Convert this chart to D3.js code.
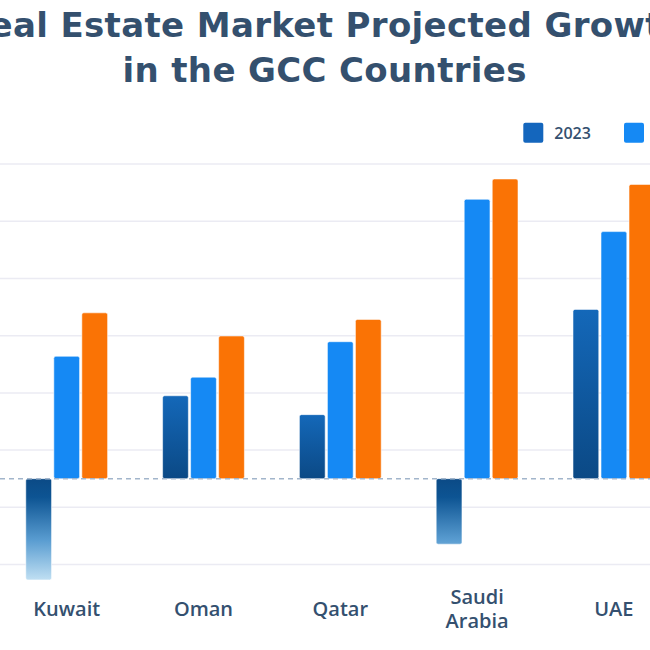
<!DOCTYPE html>
<html>
<head>
<meta charset="utf-8">
<script src="https://cdn.jsdelivr.net/npm/d3@7"></script>
<style>
html,body{margin:0;padding:0;background:#fff;overflow:hidden;}
svg{display:block;}
</style>
</head>
<body>
<svg id="chart" width="650" height="650"></svg>
<script>
const titleLines = ["Real Estate Market Projected Growth", "in the GCC Countries"];
const categories = ["Kuwait", "Oman", "Qatar", "Saudi Arabia", "UAE"];
const seriesNames = ["2023", "2024", "2030"];
const values2023 = [-3.54, 2.90, 2.24, -2.29, 5.92];
const values2024 = [4.28, 3.55, 4.79, 9.77, 8.64];
const values2030 = [5.80, 4.99, 5.57, 10.48, 10.29];
const gridTicks = [-3, -1, 1, 3, 5, 7, 9, 11];

const seriesValues = [values2023, values2024, values2030];
const textColor = "#34506f";

const svg = d3.select("#chart");
const W = 650;

const x0 = d3.scaleBand().domain(categories).range([-1.7, 682.3]).paddingInner(0.402).paddingOuter(0.201);
const x1 = d3.scaleBand().domain(seriesNames).range([0, x0.bandwidth()]).paddingInner(0.08);
const y = d3.scaleLinear().domain([-4, 12]).range([593.1, 135.5]);

const defs = svg.append("defs");
const gPos = defs.append("linearGradient").attr("id", "gPos").attr("x1", 0).attr("y1", 0).attr("x2", 0).attr("y2", 1);
gPos.append("stop").attr("offset", 0).attr("stop-color", "#1468b9");
gPos.append("stop").attr("offset", 1).attr("stop-color", "#0b4985");
const gNeg = defs.append("linearGradient").attr("id", "gNeg").attr("gradientUnits", "userSpaceOnUse")
  .attr("x1", 0).attr("x2", 0).attr("y1", y(0)).attr("y2", y(-3.6));
gNeg.append("stop").attr("offset", 0).attr("stop-color", "#0b4a86");
gNeg.append("stop").attr("offset", 0.18).attr("stop-color", "#0d5493");
gNeg.append("stop").attr("offset", 0.6).attr("stop-color", "#5a9dd1");
gNeg.append("stop").attr("offset", 1).attr("stop-color", "#c4e2f4");

const legendColors = ["#1466bd", "#1589f4", "#fa7305"];

function fillFor(si, v) {
  if (si === 0) return v < 0 ? "url(#gNeg)" : "url(#gPos)";
  return legendColors[si];
}

// gridlines
svg.append("g").selectAll("line").data(gridTicks).join("line")
  .attr("x1", 0).attr("x2", W)
  .attr("y1", d => y(d)).attr("y2", d => y(d))
  .attr("stroke", "#ebebf3").attr("stroke-width", 1.5);

// bars
const groups = svg.append("g").selectAll("g").data(categories).join("g")
  .attr("transform", d => `translate(${x0(d)},0)`);
groups.selectAll("rect").data((c, ci) => seriesNames.map((s, si) => ({s, si, v: seriesValues[si][ci]})))
  .join("rect")
  .attr("x", d => x1(d.s))
  .attr("width", x1.bandwidth())
  .attr("y", d => Math.min(y(d.v), y(0)))
  .attr("height", d => Math.abs(y(d.v) - y(0)))
  .attr("rx", 2)
  .attr("fill", d => fillFor(d.si, d.v))
  .attr("stroke", "rgba(255,255,255,0.55)")
  .attr("stroke-width", 1);

// zero line
svg.append("line")
  .attr("x1", 0).attr("x2", W).attr("y1", y(0)).attr("y2", y(0))
  .attr("stroke", "#a2b5cb").attr("stroke-width", 1.5).attr("stroke-dasharray", "5,4");

// category labels (one text per line)
const labelLines = categories.flatMap(c => {
  const words = c.split(" ");
  return words.map((w, i) => ({c, w, off: i - (words.length - 1) / 2}));
});
svg.append("g").selectAll("text").data(labelLines).join("text")
  .attr("x", d => x0(d.c) + x0.bandwidth() / 2)
  .attr("y", d => 616 + d.off * 24)
  .attr("text-anchor", "middle")
  .attr("font-family", "'Open Sans', sans-serif")
  .attr("font-weight", 600)
  .attr("font-size", 20)
  .attr("fill", textColor)
  .text(d => d.w);

// title
const tl = svg.append("g").selectAll("text").data(titleLines).join("text")
  .attr("x", 324.7)
  .attr("y", (d, i) => i === 0 ? 36.7 : 81.7)
  .attr("text-anchor", "middle")
  .attr("font-family", "'DejaVu Sans', sans-serif")
  .attr("font-weight", 700)
  .attr("font-size", 34)
  .attr("fill", "#34506e")
  .text(d => d);
const line2 = tl.filter((d, i) => i === 1).node();
const w2 = line2.getComputedTextLength();
const ls = (404 - w2) / (titleLines[1].length - 1);
tl.attr("letter-spacing", ls);

// legend
const leg = svg.append("g").selectAll("g").data(seriesNames).join("g")
  .attr("transform", (d, i) => `translate(${523.3 + i * 100.7},122.7)`);
leg.append("rect").attr("width", 20).attr("height", 20).attr("rx", 2)
  .attr("fill", (d, i) => legendColors[i]);
leg.append("text").attr("x", 31).attr("y", 16.4)
  .attr("font-family", "'Open Sans', sans-serif")
  .attr("font-weight", 600).attr("font-size", 16)
  .attr("fill", textColor).text(d => d);
</script>
</body>
</html>
